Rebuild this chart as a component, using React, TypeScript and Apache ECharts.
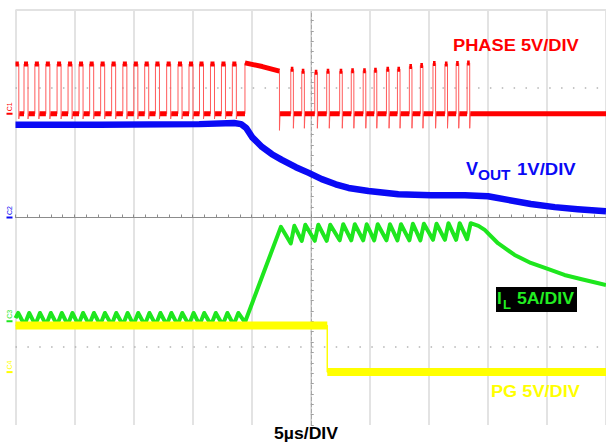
import React, { useEffect, useRef } from "react";
import * as echarts from "echarts";

// ---- axes (time in µs, vertical in divisions) ----
const T_MIN = -25;
const T_MAX = 25;
const T_DIV = 5; // 5 µs/DIV
const DIV_MIN = -4;
const DIV_MAX = 4;

// ---- channels ----
const CH_NAMES = ["C1", "C2", "C3", "C4"];
const CH_SCALE = [5, 1, 5, 5]; // units per division (PHASE V, VOUT V, IL A, PG V)
const CH_OFFSET = [2, 0, -2, -2.98]; // ground position, in divisions
const CH_COLORS = ["#ff0000", "#0a0af5", "#1ee61e", "#ffff00"];

// ---- PHASE (V) ----
const PHASE_START_FALL = -24.72;
const PHASE_RISE_1 = [-24.28, -23.36, -22.43, -21.48, -20.55, -19.62, -18.72, -17.79, -16.86, -15.91, -14.98, -14.06, -13.15, -12.2, -11.24, -10.31, -9.42, -8.49, -7.56, -6.64];
const PHASE_WIDTH_1 = 0.34;
const PHASE_HIGH_1 = 4.8;
const PHASE_DIP_1 = -0.5;
const PHASE_PLATEAU_T = [-5.57, -4.1, -2.65];
const PHASE_PLATEAU_V = [4.9, 4.55, 4.1];
const PHASE_PLATEAU_DIP = -1.6;
const PHASE_RISE_2 = [-1.69, -0.76, 0.34, 1.35, 2.45, 3.43, 4.44, 5.37, 6.41, 7.34, 8.35, 9.28, 10.35, 11.36, 12.31, 13.24];
const PHASE_TOP_2 = [4.3, 4.1, 4.0, 4.1, 4.1, 4.15, 4.15, 4.2, 4.3, 4.3, 4.55, 4.65, 4.85, 4.8, 4.85, 4.9];
const PHASE_WIDTH_2 = 0.22;
const PHASE_DIP_2 = -1.4;
const PHASE_LOW = 0;

// ---- VOUT (V) ----
const VOUT_T = [-25, -17.88, -9.44, -6.49, -5.9, -5.48, -4.97, -4.13, -3.29, -2.45, -1.26, -0.17, 0.93, 2.11, 3.2, 4.89, 7.42, 10.2, 13.07, 15.01, 16.7, 18.63, 20.66, 22.6, 25];
const VOUT_V = [1.79, 1.79, 1.8, 1.82, 1.8, 1.73, 1.55, 1.36, 1.22, 1.11, 0.97, 0.86, 0.74, 0.64, 0.57, 0.51, 0.45, 0.43, 0.43, 0.41, 0.34, 0.26, 0.2, 0.16, 0.12];

// ---- IL (A) ----
const IL_RIPPLE_PEAKS = [-24.77, -23.84, -22.93, -22.01, -21.08, -20.18, -19.28, -18.36, -17.43, -16.47, -15.51, -14.61, -13.66, -12.73, -11.8, -10.88, -9.92, -9.02, -8.04, -7.06, -6.13];
const IL_RIPPLE_PEAK = 0.8;
const IL_RIPPLE_VALLEY = -0.35;
const IL_RIPPLE_RISE = 0.4;
const IL_START = 0.3;
const IL_RAMP_T = [-5.57, -2.53];
const IL_RAMP_A = [-0.1, 9.1];
const IL_SAW_T = [-1.69, -1.39, -0.76, -0.46, 0.34, 0.64, 1.35, 1.65, 2.45, 2.75, 3.43, 3.73, 4.44, 4.74, 5.37, 5.67, 6.41, 6.71, 7.34, 7.64, 8.35, 8.65, 9.28, 9.58, 10.35, 10.65, 11.36, 11.66, 12.31, 12.61, 13.24, 13.54];
const IL_SAW_A = [7.5, 9.2, 7.75, 9.3, 7.75, 9.3, 7.75, 9.3, 7.8, 9.35, 7.8, 9.35, 7.8, 9.35, 7.8, 9.35, 7.8, 9.35, 7.8, 9.35, 7.8, 9.4, 7.8, 9.4, 7.85, 9.4, 7.85, 9.45, 7.85, 9.45, 7.9, 9.45];
const IL_DECAY_T = [14.2, 14.73, 15.85, 17.26, 18.63, 20.07, 21.48, 22.85, 24.28, 25];
const IL_DECAY_A = [9.2, 8.8, 7.52, 6.39, 5.62, 5.04, 4.46, 4.07, 3.69, 3.49];

// ---- PG (V) ----
const PG_T = [-25, 1.4, 1.4, 25];
const PG_V = [4.5, 4.5, 0, 0];

const FONT = '"Liberation Sans", Arial, sans-serif';

type Pt = [number, number];

const toDiv = (v: number, ch: number) => v / CH_SCALE[ch] + CH_OFFSET[ch];

function buildPhase(): Pt[] {
  const p: Pt[] = [];
  p.push([T_MIN, PHASE_HIGH_1], [PHASE_START_FALL, PHASE_HIGH_1], [PHASE_START_FALL, PHASE_DIP_1], [PHASE_START_FALL + 0.05, PHASE_LOW]);
  PHASE_RISE_1.forEach((r) => {
    const f = r + PHASE_WIDTH_1;
    p.push([r, PHASE_LOW], [r, PHASE_HIGH_1], [f, PHASE_HIGH_1], [f, PHASE_DIP_1], [f + 0.05, PHASE_LOW]);
  });
  p.push([PHASE_PLATEAU_T[0], PHASE_LOW]);
  PHASE_PLATEAU_T.forEach((t, i) => p.push([t, PHASE_PLATEAU_V[i]]));
  const pe = PHASE_PLATEAU_T[PHASE_PLATEAU_T.length - 1];
  p.push([pe, PHASE_PLATEAU_DIP], [pe + 0.05, PHASE_LOW]);
  PHASE_RISE_2.forEach((r, i) => {
    const f = r + PHASE_WIDTH_2;
    p.push([r, PHASE_LOW], [r, PHASE_TOP_2[i]], [f, PHASE_TOP_2[i]], [f, PHASE_DIP_2], [f + 0.05, PHASE_LOW]);
  });
  p.push([T_MAX, PHASE_LOW]);
  return p;
}

function buildIL(): Pt[] {
  const p: Pt[] = [[T_MIN, IL_START]];
  IL_RIPPLE_PEAKS.forEach((pk) => {
    const v = pk - IL_RIPPLE_RISE;
    if (v > T_MIN) p.push([v, IL_RIPPLE_VALLEY]);
    p.push([pk, IL_RIPPLE_PEAK]);
  });
  IL_RAMP_T.forEach((t, i) => p.push([t, IL_RAMP_A[i]]));
  IL_SAW_T.forEach((t, i) => p.push([t, IL_SAW_A[i]]));
  IL_DECAY_T.forEach((t, i) => p.push([t, IL_DECAY_A[i]]));
  return p;
}

// keep only the (nearly) horizontal runs of a waveform, for the thick noisy band
function thickRuns(pts: Pt[], minDt: number): any[] {
  const out: any[] = [];
  let last: Pt | null = null;
  for (let i = 0; i < pts.length - 1; i++) {
    const a = pts[i];
    const b = pts[i + 1];
    if (b[0] - a[0] < minDt) continue;
    if (!(last && last[0] === a[0] && last[1] === a[1])) {
      if (out.length) out.push([a[0], "-"]);
      out.push(a);
    }
    out.push(b);
    last = b;
  }
  return out;
}

const scaleCh = (pts: any[], ch: number) =>
  pts.map((d) => (typeof d[1] === "number" ? [d[0], toDiv(d[1], ch)] : d));

export default function App() {
  const ref = useRef<HTMLDivElement>(null);
  useEffect(() => {
    const el = ref.current;
    if (!el) return;
    const chart = echarts.init(el, undefined, { renderer: "svg" });

    const phase = buildPhase();
    const il = buildIL();
    const vout: Pt[] = VOUT_T.map((t, i) => [t, VOUT_V[i]]);
    const pg: Pt[] = PG_T.map((t, i) => [t, PG_V[i]]);

    const lineBase = { type: "line", showSymbol: false, symbol: "none", silent: true, animation: false };

    const option: any = {
      animation: false,
      backgroundColor: "#ffffff",
      grid: { left: 15.5, top: 10, width: 593, height: 415, show: false },
      xAxis: {
        type: "value", min: T_MIN, max: T_MAX, interval: T_DIV,
        axisLabel: { show: false },
        axisLine: { show: true, onZero: true, lineStyle: { color: "#8c8c8c", width: 1 } },
        axisTick: { show: true, inside: true, length: 3, lineStyle: { color: "#8c8c8c" } },
        minorTick: { show: true, splitNumber: 5, length: 3, lineStyle: { color: "#8c8c8c" } },
        splitLine: { show: true, lineStyle: { color: "#dadada", width: 1.5 } },
      },
      yAxis: {
        type: "value", min: DIV_MIN, max: DIV_MAX, interval: 1,
        axisLabel: { show: false },
        axisLine: { show: true, onZero: true, lineStyle: { color: "#a8a8a8", type: "dashed", width: 1 } },
        axisTick: { show: true, inside: true, length: 3, lineStyle: { color: "#a0a0a0" } },
        minorTick: { show: true, splitNumber: 5, length: 3, lineStyle: { color: "#a0a0a0" } },
        splitLine: { show: false },
      },
      series: [
        {
          ...lineBase, name: "grid", data: [], z: 0,
          markLine: {
            silent: true, symbol: "none", label: { show: false }, animation: false,
            data: [
              { yAxis: DIV_MAX, lineStyle: { color: "#e2e2e2", width: 2, type: "solid" } },
              { yAxis: 2.5, lineStyle: { color: "#b4b4b4", width: 1.5, type: [1.5, 10.36] } },
              { yAxis: -2.5, lineStyle: { color: "#b4b4b4", width: 1.5, type: [1.5, 10.36] } },
            ],
          },
        },
        { ...lineBase, name: "IL", z: 2, data: scaleCh(il, 2), lineStyle: { color: CH_COLORS[2], width: 4, join: "round" } },
        { ...lineBase, name: "PG edge", z: 3, data: scaleCh(pg, 3), lineStyle: { color: CH_COLORS[3], width: 1.5 } },
        { ...lineBase, name: "PG", z: 3, data: scaleCh(thickRuns(pg, 0.1), 3), lineStyle: { color: CH_COLORS[3], width: 8, cap: "butt" } },
        { ...lineBase, name: "VOUT", z: 4, data: scaleCh(vout, 1), lineStyle: { color: CH_COLORS[1], width: 6.5, join: "round" } },
        { ...lineBase, name: "PHASE edge", z: 5, data: scaleCh(phase, 0), lineStyle: { color: "#ff5a5a", width: 1 } },
        { ...lineBase, name: "PHASE", z: 6, data: scaleCh(thickRuns(phase, 0.1), 0), lineStyle: { color: CH_COLORS[0], width: 5, cap: "butt" } },
      ],
    };
    chart.setOption(option);

    const txt = (x: number, y: number, text: string, fill: string, size: number, scaleX = 1, align = "left") => ({
      type: "text", x, y, scaleX, z: 100,
      style: { text, fill, font: `bold ${size}px ${FONT}`, textAlign: align, textVerticalAlign: "middle" },
    });

    const markers: any[] = [];
    CH_OFFSET.forEach((off, i) => {
      const p = chart.convertToPixel({ gridIndex: 0 }, [T_MIN, off]) as number[];
      markers.push({ type: "rect", z: 100, shape: { x: p[0] - 9, y: p[1] - 1, width: 6, height: 2 }, style: { fill: CH_COLORS[i] } });
      markers.push({
        type: "text", z: 100, x: p[0] - 6, y: p[1] - 7, rotation: Math.PI / 2,
        style: { text: CH_NAMES[i], fill: CH_COLORS[i], font: `7px ${FONT}`, textAlign: "center", textVerticalAlign: "middle" },
      });
    });

    chart.setOption({
      graphic: [
        txt(453, 45, "PHASE 5V/DIV", CH_COLORS[0], 17, 1.075),
        txt(466, 169, "V", CH_COLORS[1], 18),
        txt(478, 175, "OUT", CH_COLORS[1], 14, 1.1),
        txt(517, 169, "1V/DIV", CH_COLORS[1], 17, 1.09),
        { type: "rect", z: 99, shape: { x: 496, y: 287, width: 81, height: 25 }, style: { fill: "#000000" } },
        txt(497, 298.5, "I", "#22ee22", 17),
        txt(503, 304, "L", "#22ee22", 13),
        txt(517, 298.5, "5A/DIV", "#22ee22", 17, 1.04),
        txt(491, 391, "PG 5V/DIV", CH_COLORS[3], 17, 1.07),
        txt(306, 434, "5µs/DIV", "#000000", 16, 1.1, "center"),
        ...markers,
      ],
    });

    return () => chart.dispose();
  }, []);
  return (
    <div
      ref={ref}
      style={{ position: "absolute", left: 0, top: 0, width: 606, height: 444, background: "#ffffff" }}
    />
  );
}
